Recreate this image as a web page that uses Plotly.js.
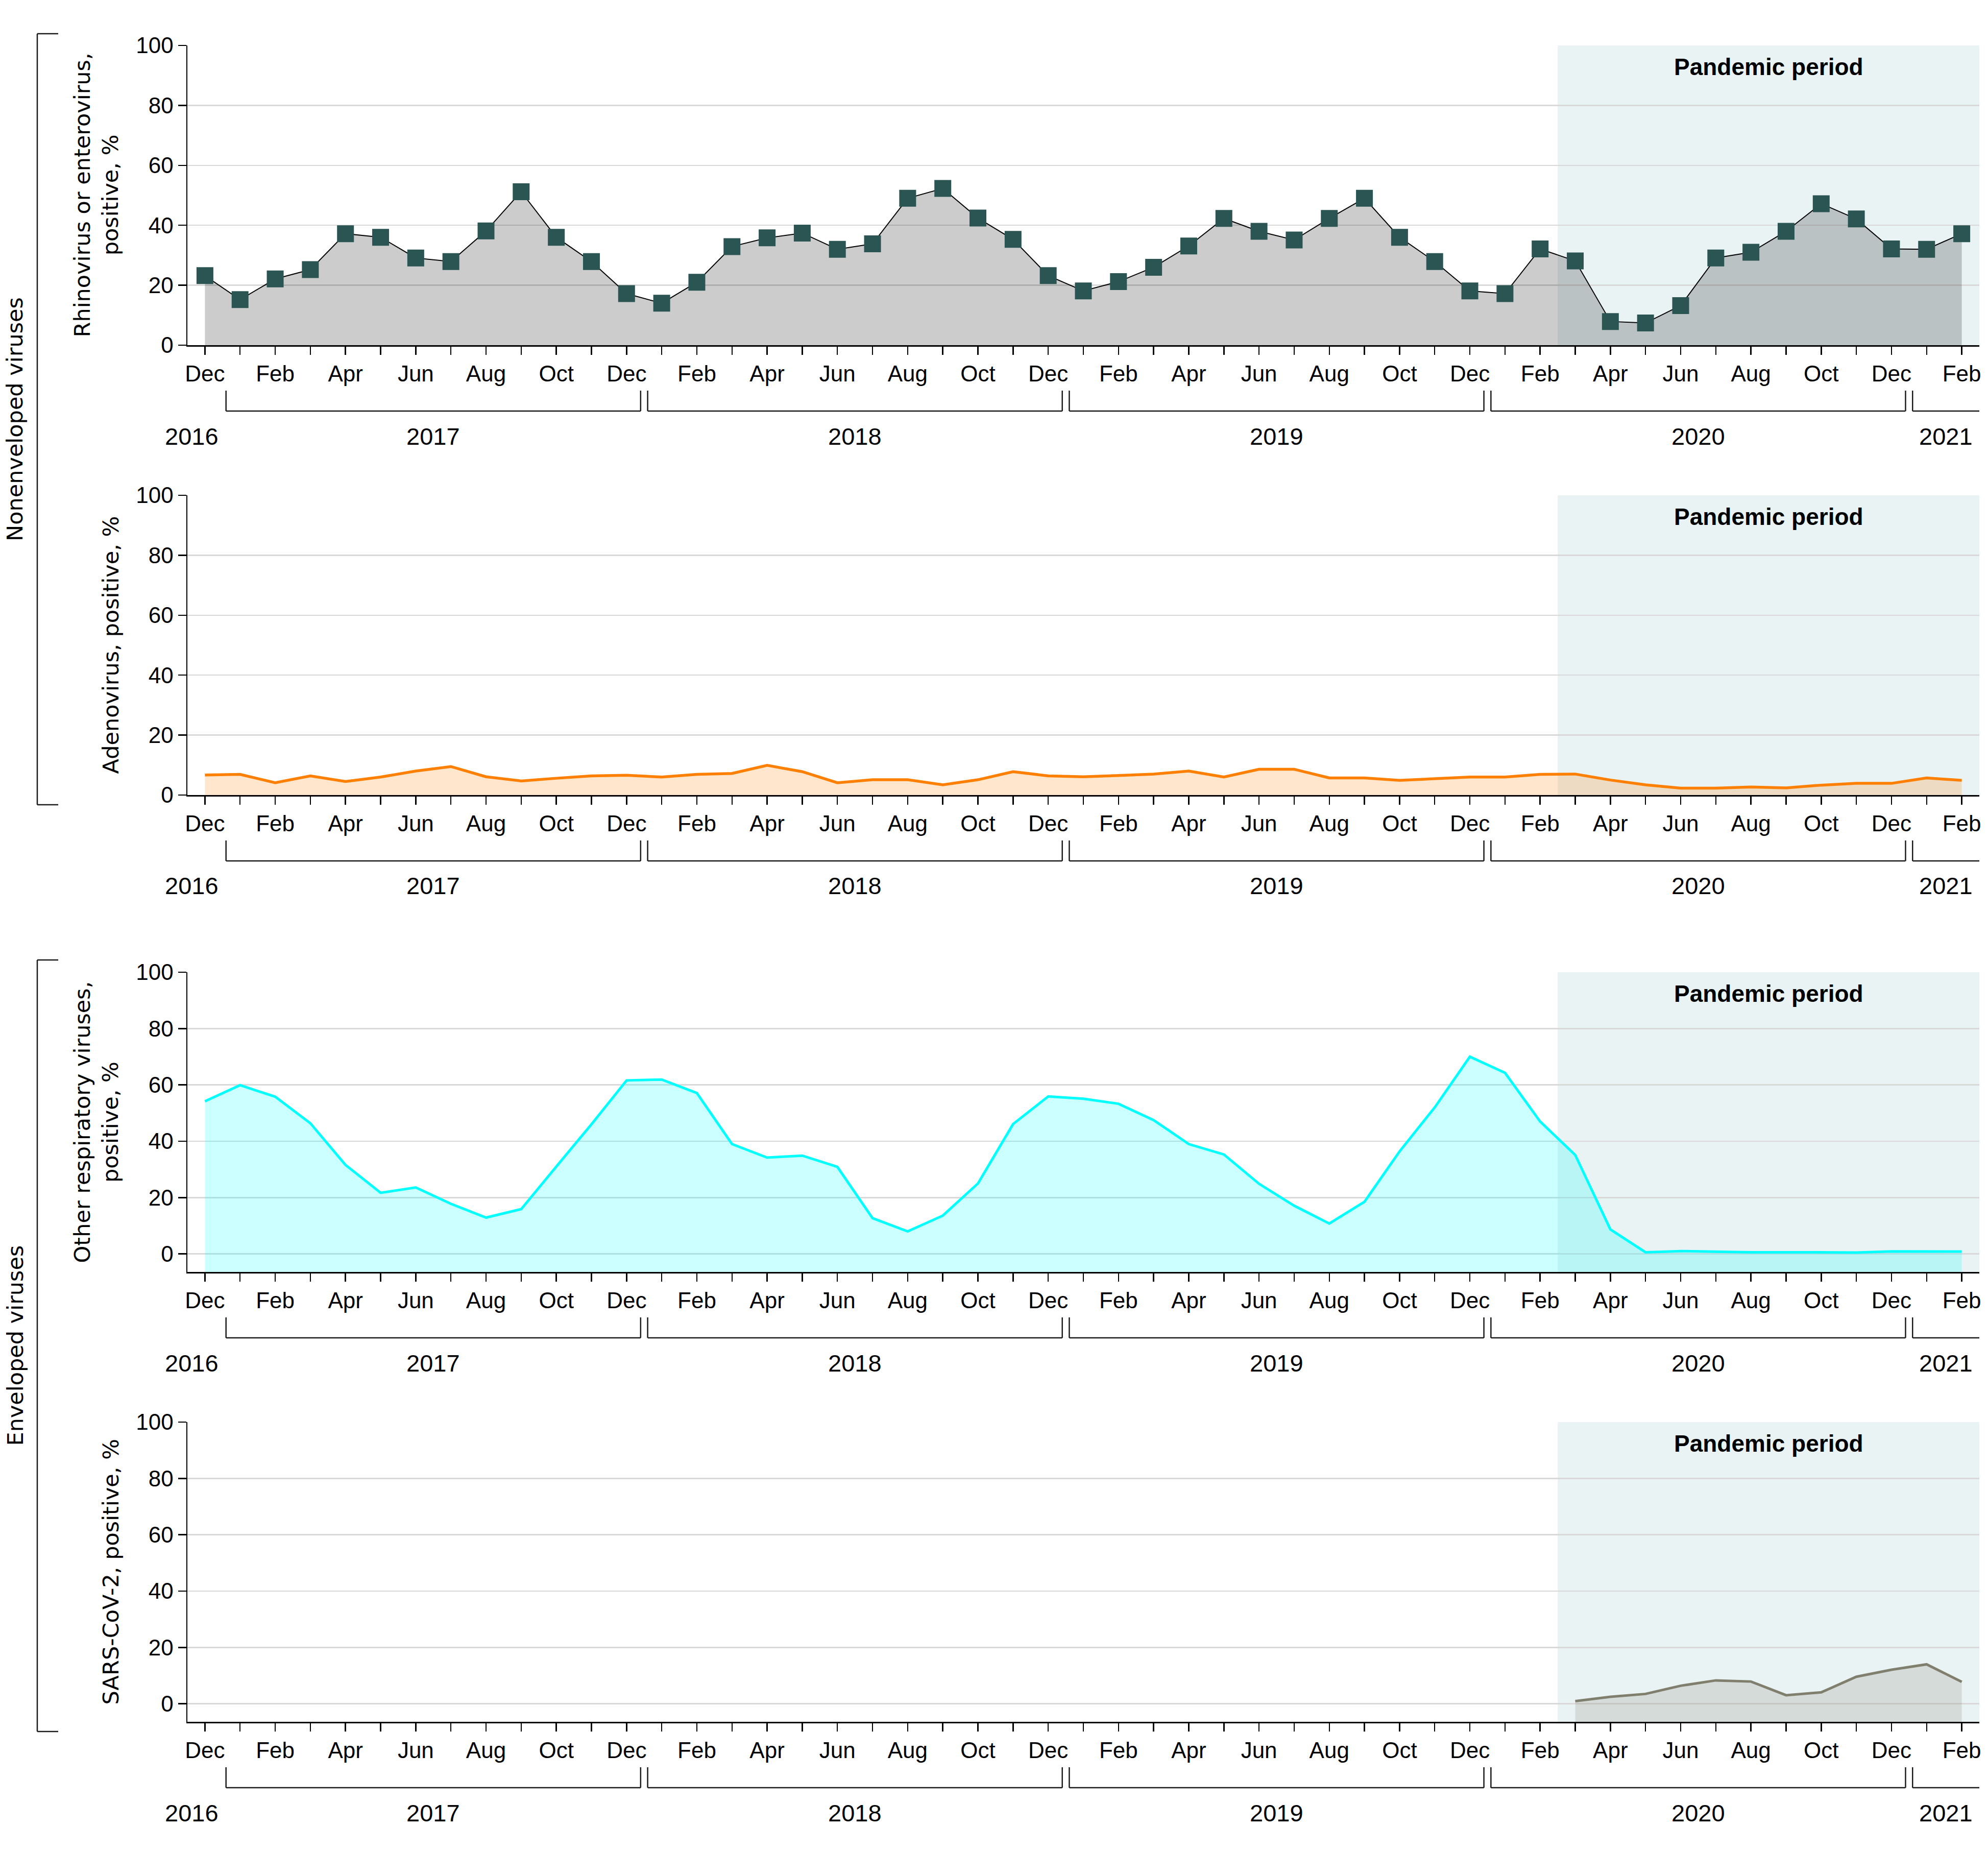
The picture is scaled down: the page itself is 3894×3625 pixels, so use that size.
<!DOCTYPE html>
<html>
<head>
<meta charset="utf-8">
<script src="https://cdn.plot.ly/plotly-3.0.1.min.js"></script>
<style>html,body{margin:0;padding:0;background:#fff;}</style>
</head>
<body>
<div id="chart" style="width:3894px;height:3625px;"></div>
<script>
// ---------------- DATA ----------------
const months = ['2016-12',
  '2017-01','2017-02','2017-03','2017-04','2017-05','2017-06','2017-07','2017-08','2017-09','2017-10','2017-11','2017-12',
  '2018-01','2018-02','2018-03','2018-04','2018-05','2018-06','2018-07','2018-08','2018-09','2018-10','2018-11','2018-12',
  '2019-01','2019-02','2019-03','2019-04','2019-05','2019-06','2019-07','2019-08','2019-09','2019-10','2019-11','2019-12',
  '2020-01','2020-02','2020-03','2020-04','2020-05','2020-06','2020-07','2020-08','2020-09','2020-10','2020-11','2020-12',
  '2021-01','2021-02'];
const monthNames = ['Jan','Feb','Mar','Apr','May','Jun','Jul','Aug','Sep','Oct','Nov','Dec'];
const years = ['2016','2017','2018','2019','2020','2021'];

// Rhinovirus or enterovirus, positive % (Dec 2016 - Feb 2021)
const rhinoEntero = [23.2,15.2,22.1,25.2,37.2,36.0,29.1,27.9,38.1,51.2,36.0,27.9,17.2,
  14.0,21.0,32.9,35.8,37.4,32.0,33.8,49.0,52.3,42.4,35.3,23.2,
  18.1,21.2,26.0,33.1,42.3,38.0,35.1,42.3,49.0,36.0,27.9,18.1,
  17.2,32.1,28.1,7.9,7.4,13.2,29.1,31.0,38.0,47.2,42.1,32.1,
  32.0,37.2];
// Adenovirus, positive %
const adenovirus = [6.7,6.9,4.1,6.4,4.5,6.0,8.0,9.5,6.1,4.7,5.6,6.4,6.6,
  6.0,6.9,7.2,9.9,7.8,4.1,5.1,5.1,3.4,5.1,7.8,6.4,
  6.1,6.5,7.0,8.0,6.0,8.6,8.6,5.7,5.7,4.9,5.4,6.0,
  6.0,6.9,7.0,5.0,3.4,2.3,2.3,2.7,2.4,3.3,3.9,3.9,
  5.7,4.9];
// Other respiratory viruses, positive %
const otherResp = [54.2,59.9,55.8,46.4,31.6,21.7,23.6,17.8,12.9,15.9,31.0,46.0,61.6,
  61.9,57.1,39.0,34.2,34.9,30.9,12.7,8.0,13.6,25.0,46.1,55.9,
  55.1,53.3,47.5,39.0,35.3,24.9,17.1,10.8,18.5,36.4,52.0,70.0,
  64.3,47.0,35.1,8.7,0.6,1.0,0.7,0.6,0.6,0.5,0.5,0.9,
  0.85,0.85];
// SARS-CoV-2, positive % (Mar 2020 - Feb 2021)
const sarsStart = '2020-03';
const sarsCov2 = [0.95,2.5,3.5,6.4,8.3,7.9,3.05,4.05,9.6,12.1,14.0,7.8];

const pandemicStart = '2020-03';
const yTickVals = [0,20,40,60,80,100];
const yTitles = ['Rhinovirus or enterovirus,<br>positive, %','Adenovirus, positive, %',
                 'Other respiratory viruses,<br>positive, %','SARS-CoV-2, positive, %'];
const groupLabels = ['Nonenveloped viruses','Enveloped viruses'];
const pandemicLabel = 'Pandemic period';

// ---------------- LAYOUT GEOMETRY (pixels) ----------------
const W = 3894, H = 3625;
const PL = 367, PR = 3877;
const Y_MIN_ENV = -6.4;
const panels = [
  {top: 89,   bottom: 676,  range: [0,100]},
  {top: 970,  bottom: 1557, range: [0,100]},
  {top: 1904, bottom: 2491, range: [Y_MIN_ENV,100]},
  {top: 2785, bottom: 3372, range: [Y_MIN_ENV,100]}
];
const py = px => 1 - px / H;
const pxx = px => px / W;

const tickFont = {family: 'Liberation Sans, Arial, sans-serif', size: 44, color: '#000'};
const yearFont = {family: 'Liberation Sans, Arial, sans-serif', size: 47, color: '#000'};
const titleFont = {family: 'DejaVu Sans, Verdana, sans-serif', size: 43, color: '#000'};
const bandFont = {family: 'Liberation Sans, Arial, sans-serif', size: 46, color: '#000'};

const xi = months.map((_, i) => i);
const monthTicks = months.map((m, i) => i % 2 === 0 ? monthNames[parseInt(m.slice(5), 10) - 1] : '');
const pandemicIdx = months.indexOf(pandemicStart);
const sarsX = sarsCov2.map((_, k) => months.indexOf(sarsStart) + k);

// ---------------- TRACES ----------------
const data = [];
const sfx = i => (i === 0 ? '' : String(i + 1));

// Panel 1: rhinovirus
data.push({
  x: xi, y: rhinoEntero, xaxis: 'x', yaxis: 'y', type: 'scatter', mode: 'lines+markers',
  fill: 'tozeroy', fillcolor: 'rgba(0,0,0,0.2)',
  line: {color: '#000', width: 2},
  marker: {symbol: 'square', size: 33, color: '#2a5553', line: {width: 0}},
  hoverinfo: 'skip', showlegend: false
});
// Panel 2: adenovirus
data.push({
  x: xi, y: adenovirus, xaxis: 'x2', yaxis: 'y2', type: 'scatter', mode: 'lines',
  fill: 'tozeroy', fillcolor: 'rgba(255,128,0,0.2)',
  line: {color: '#ff8000', width: 5.5},
  hoverinfo: 'skip', showlegend: false
});
// Panel 3: other respiratory viruses (fill down to axis bottom)
data.push({
  x: xi, y: xi.map(() => Y_MIN_ENV), xaxis: 'x3', yaxis: 'y3', type: 'scatter', mode: 'lines',
  line: {width: 0, color: 'rgba(0,0,0,0)'}, hoverinfo: 'skip', showlegend: false
});
data.push({
  x: xi, y: otherResp, xaxis: 'x3', yaxis: 'y3', type: 'scatter', mode: 'lines',
  fill: 'tonexty', fillcolor: 'rgba(0,255,255,0.2)',
  line: {color: '#00ffff', width: 5},
  hoverinfo: 'skip', showlegend: false
});
// Panel 4: SARS-CoV-2
data.push({
  x: sarsX, y: sarsX.map(() => Y_MIN_ENV), xaxis: 'x4', yaxis: 'y4', type: 'scatter', mode: 'lines',
  line: {width: 0, color: 'rgba(0,0,0,0)'}, hoverinfo: 'skip', showlegend: false
});
data.push({
  x: sarsX, y: sarsCov2, xaxis: 'x4', yaxis: 'y4', type: 'scatter', mode: 'lines',
  fill: 'tonexty', fillcolor: 'rgba(128,127,109,0.2)',
  line: {color: '#807f6d', width: 5},
  hoverinfo: 'skip', showlegend: false
});

// ---------------- LAYOUT ----------------
const layout = {
  width: W, height: H, autosize: false,
  margin: {l: 0, r: 0, t: 0, b: 0, pad: 0},
  paper_bgcolor: '#fff', plot_bgcolor: 'rgba(0,0,0,0)',
  showlegend: false,
  shapes: [], annotations: []
};

panels.forEach((p, i) => {
  const s = sfx(i);
  layout['xaxis' + s] = {
    domain: [pxx(PL), pxx(PR)], anchor: 'y' + s,
    range: [-0.5, months.length - 0.5],
    tickmode: 'array', tickvals: xi, ticktext: monthTicks,
    ticks: 'outside', ticklen: 16, tickwidth: 2.5, tickcolor: '#000',
    showline: true, linecolor: '#000', linewidth: 2.5,
    showgrid: false, zeroline: false, tickfont: tickFont, tickangle: 0,
    fixedrange: true
  };
  layout['yaxis' + s] = {
    domain: [py(p.bottom), py(p.top)], anchor: 'x' + s,
    range: p.range,
    tickmode: 'array', tickvals: yTickVals,
    ticks: 'outside', ticklen: 16, tickwidth: 2.5, tickcolor: '#000',
    showline: true, linecolor: '#000', linewidth: 2.5,
    showgrid: true, gridcolor: '#d9d9d9', gridwidth: 2.5, zeroline: false,
    tickfont: tickFont, fixedrange: true
  };

  // pandemic shading
  layout.shapes.push({
    type: 'rect', xref: 'x' + s, yref: 'y' + s, layer: 'below',
    x0: pandemicIdx - 0.5, x1: months.length - 0.5, y0: p.range[0], y1: p.range[1],
    fillcolor: '#e9f3f4', line: {width: 0}
  });
  layout.annotations.push({
    xref: 'x' + s, yref: 'paper', x: (pandemicIdx - 0.5 + months.length - 0.5) / 2, y: py(p.top + 42),
    text: '<b>' + pandemicLabel + '</b>', showarrow: false, xanchor: 'center', yanchor: 'middle',
    font: bandFont
  });

  // y title
  const twoLine = yTitles[i].indexOf('<br>') >= 0;
  layout.annotations.push({
    xref: 'paper', yref: 'paper', x: pxx(twoLine ? 188 : 216), y: py((p.top + p.bottom) / 2),
    text: yTitles[i], textangle: -90, showarrow: false, xanchor: 'center', yanchor: 'middle',
    font: titleFont
  });

  // year brackets and labels
  const yEnd = py(p.bottom + 89), yLine = py(p.bottom + 129), yLab = py(p.bottom + 178);
  years.forEach((yr, k) => {
    const idx = months.map((m, j) => m.startsWith(yr) ? j : -1).filter(j => j >= 0);
    const first = idx[0], last = idx[idx.length - 1];
    let labX;
    if (k === 0) {
      labX = first - 0.38;
    } else {
      const x0 = first - 0.4;
      const isLast = k === years.length - 1;
      const x1 = isLast ? months.length - 0.5 : last + 0.4;
      const line = {color: '#1a1a1a', width: 2.5};
      layout.shapes.push({type: 'line', xref: 'x' + s, yref: 'paper', x0: x0, x1: x1, y0: yLine, y1: yLine, line: line, layer: 'above'});
      layout.shapes.push({type: 'line', xref: 'x' + s, yref: 'paper', x0: x0, x1: x0, y0: yEnd, y1: yLine, line: line, layer: 'above'});
      if (!isLast) layout.shapes.push({type: 'line', xref: 'x' + s, yref: 'paper', x0: x1, x1: x1, y0: yEnd, y1: yLine, line: line, layer: 'above'});
      labX = (x0 + x1) / 2;
    }
    layout.annotations.push({
      xref: 'x' + s, yref: 'paper', x: labX, y: yLab, text: yr, showarrow: false,
      xanchor: 'center', yanchor: 'middle', font: yearFont
    });
  });
});

// group brackets
const groups = [
  {top: panels[0].top - 23, bottom: panels[1].bottom + 19},
  {top: panels[2].top - 24, bottom: panels[3].bottom + 19}
];
groups.forEach((g, k) => {
  const line = {color: '#1a1a1a', width: 2.5};
  layout.shapes.push({type: 'line', xref: 'paper', yref: 'paper', x0: pxx(73), x1: pxx(73), y0: py(g.top), y1: py(g.bottom), line: line});
  layout.shapes.push({type: 'line', xref: 'paper', yref: 'paper', x0: pxx(73), x1: pxx(114), y0: py(g.top), y1: py(g.top), line: line});
  layout.shapes.push({type: 'line', xref: 'paper', yref: 'paper', x0: pxx(73), x1: pxx(114), y0: py(g.bottom), y1: py(g.bottom), line: line});
  layout.annotations.push({
    xref: 'paper', yref: 'paper', x: pxx(29), y: py((g.top + g.bottom) / 2),
    text: groupLabels[k], textangle: -90, showarrow: false, xanchor: 'center', yanchor: 'middle',
    font: titleFont
  });
});

Plotly.newPlot('chart', data, layout, {displayModeBar: false, staticPlot: true});
</script>
</body>
</html>
